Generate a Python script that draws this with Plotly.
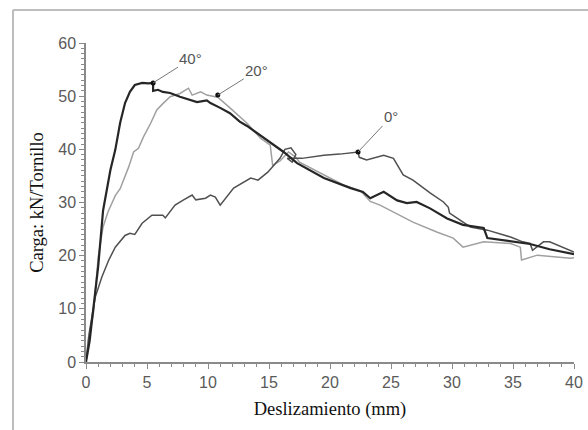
import plotly.graph_objects as go

# ---- data ----
x_40 = [0, 0.3, 0.7, 1.0, 1.4, 2.0, 2.4, 2.8, 3.2, 3.6, 4.0, 4.6, 5.1, 5.5, 5.5, 5.9, 6.3, 6.9, 7.7,
        8.6, 9.1, 9.9, 10.2, 11.0, 11.8, 12.6, 13.2, 16.2, 17.3, 19.5, 21.7, 22.7, 23.3, 24.4, 25.5,
        26.3, 27.1, 28.2, 29.6, 30.9, 32.6, 32.9, 34.2, 35.3, 36.4, 38.0, 40.0]
y_40 = [0, 4, 12, 18, 28.5, 36.1, 39.9, 45.0, 48.7, 50.8, 52.1, 52.5, 52.4, 52.5, 51.0, 51.2, 50.8, 50.6, 49.9,
        49.3, 48.9, 49.2, 48.7, 47.8, 46.8, 45.2, 44.4, 39.5, 37.4, 34.6, 32.7, 32.0, 30.8, 32.0, 30.4,
        29.9, 30.1, 28.9, 27.0, 25.8, 25.2, 23.3, 22.9, 22.5, 22.2, 21.2, 20.3]

x_20 = [0, 0.2, 0.6, 1.0, 1.4, 1.8, 2.4, 2.8, 3.5, 3.9, 4.3, 4.7, 5.3, 5.8, 6.3, 6.9, 7.7, 8.4, 8.7,
        9.4, 9.9, 10.8, 11.8, 12.6, 13.2, 14.3, 15.1, 15.3, 15.9, 16.6, 17.2, 17.5, 19.5, 21.1, 22.5,
        23.3, 24.1, 26.8, 28.8, 30.1, 30.9, 32.6, 34.8, 35.6, 35.7, 37.0, 39.7, 40.0]
y_20 = [0, 4.6, 9.0, 19.7, 25.4, 28.2, 31.3, 32.6, 36.7, 39.5, 40.2, 42.3, 44.9, 47.4, 48.6, 49.9, 50.5, 51.5, 50.2,
        50.8, 50.2, 49.8, 47.8, 46.1, 44.9, 42.1, 40.8, 37.0, 37.8, 39.5, 38.5, 37.6, 35.2, 33.3, 32.2,
        30.2, 29.5, 26.3, 24.4, 23.3, 21.6, 22.6, 22.3, 21.6, 19.2, 20.1, 19.5, 19.6]

x_0 = [0, 0.3, 0.76, 1.3, 1.85, 2.4, 3.2, 3.6, 4.0, 4.6, 5.4, 6.3, 6.5, 7.3, 8.0, 8.7, 9.0, 9.8, 10.2,
       10.6, 11.0, 12.1, 13.5, 14.1, 14.9, 15.3, 15.9, 16.3, 16.8, 17.2, 16.9, 16.5, 17.7, 19.5, 20.8,
       22.3, 22.4, 23.0, 24.4, 25.2, 26.0, 26.8, 28.2, 29.3, 29.7, 29.8, 30.7, 31.5, 32.9, 33.7, 34.8,
       35.8, 36.4, 36.6, 37.5, 38.0, 39.7, 40.0]
y_0 = [0, 6, 12.2, 16.0, 19.1, 21.6, 23.8, 24.2, 24.0, 26.1, 27.6, 27.6, 27.1, 29.5, 30.5, 31.4, 30.5, 30.8, 31.4,
       31.0, 29.5, 32.7, 34.6, 34.2, 35.7, 36.7, 38.3, 40.0, 40.3, 39.0, 37.6, 38.3, 38.3, 38.9, 39.1,
       39.5, 38.5, 38.0, 38.9, 38.3, 35.2, 34.2, 31.8, 30.1, 29.1, 28.0, 26.7, 25.4, 24.8, 24.2, 23.5,
       22.6, 22.3, 21.0, 22.6, 22.6, 21.0, 20.7]

label_text = ["40°", "20°", "0°"]
label_point_x = [5.5, 10.8, 22.3]
label_point_y = [52.5, 50.2, 39.5]
label_text_x = [8.6, 14.0, 25.0]
label_text_y = [57.0, 54.8, 46.1]

x_ticks = [0, 5, 10, 15, 20, 25, 30, 35, 40]
y_ticks = [0, 10, 20, 30, 40, 50, 60]

fig = go.Figure()
fig.add_trace(go.Scatter(x=x_20, y=y_20, mode="lines", line=dict(color="#a0a0a0", width=1.5), showlegend=False))
fig.add_trace(go.Scatter(x=x_0, y=y_0, mode="lines", line=dict(color="#505050", width=1.5), showlegend=False))
fig.add_trace(go.Scatter(x=x_40, y=y_40, mode="lines", line=dict(color="#262626", width=2.2), showlegend=False))
fig.add_trace(go.Scatter(x=label_point_x, y=label_point_y, mode="markers",
                         marker=dict(color="#111", size=5), showlegend=False))

for t, px, py, tx, ty in zip(label_text, label_point_x, label_point_y, label_text_x, label_text_y):
    fig.add_annotation(x=px, y=py, ax=tx, ay=ty, axref="x", ayref="y", xref="x", yref="y",
                       text=t, showarrow=True, arrowhead=0, arrowwidth=1, arrowcolor="#777",
                       standoff=0, font=dict(family="Liberation Sans, Arial", size=15, color="#555"))

# outer frame (gray lines at top and left of picture)
W, H = 588, 430
L, R, T, B = 86, 14, 43, 68
pw, ph = W - L - R, H - T - B
def px2x(p): return (p - L) / pw
def py2y(p): return (H - B - p) / ph
fig.add_shape(type="line", xref="paper", yref="paper", x0=px2x(13), x1=px2x(600), y0=py2y(10), y1=py2y(10),
              line=dict(color="#bdbdbd", width=2))
fig.add_shape(type="line", xref="paper", yref="paper", x0=px2x(13), x1=px2x(13), y0=py2y(10), y1=py2y(440),
              line=dict(color="#bdbdbd", width=2))

axis_common = dict(showgrid=False, zeroline=False, showline=True, linecolor="#8a8a8a", linewidth=1.5,
                   ticks="outside", ticklen=5, tickcolor="#8a8a8a", tickwidth=1.2, automargin=False,
                   tickfont=dict(family="Liberation Sans, Arial", size=16, color="#5a5a5a"))
fig.update_xaxes(range=[0, 40], tickvals=x_ticks, **axis_common,
                 minor=dict(dtick=1, ticks="outside", ticklen=3, tickcolor="#8a8a8a", tickwidth=1),
                 title=dict(text="Deslizamiento (mm)", standoff=12,
                            font=dict(family="Liberation Serif, Times New Roman", size=18.5, color="#111")))
fig.update_yaxes(range=[0, 60], tickvals=y_ticks, **axis_common,
                 minor=dict(dtick=1, ticks="outside", ticklen=3, tickcolor="#8a8a8a", tickwidth=1),
                 title=dict(text="Carga: kN/Tornillo", standoff=10,
                            font=dict(family="Liberation Serif, Times New Roman", size=18.5, color="#111")))

fig.update_layout(width=W, height=H, margin=dict(l=L, r=R, t=T, b=B),
                  plot_bgcolor="white", paper_bgcolor="white")
fig.write_html("out.html", config={"displayModeBar": False},
               post_script="document.body.style.margin='0';document.body.style.overflow='hidden';")
